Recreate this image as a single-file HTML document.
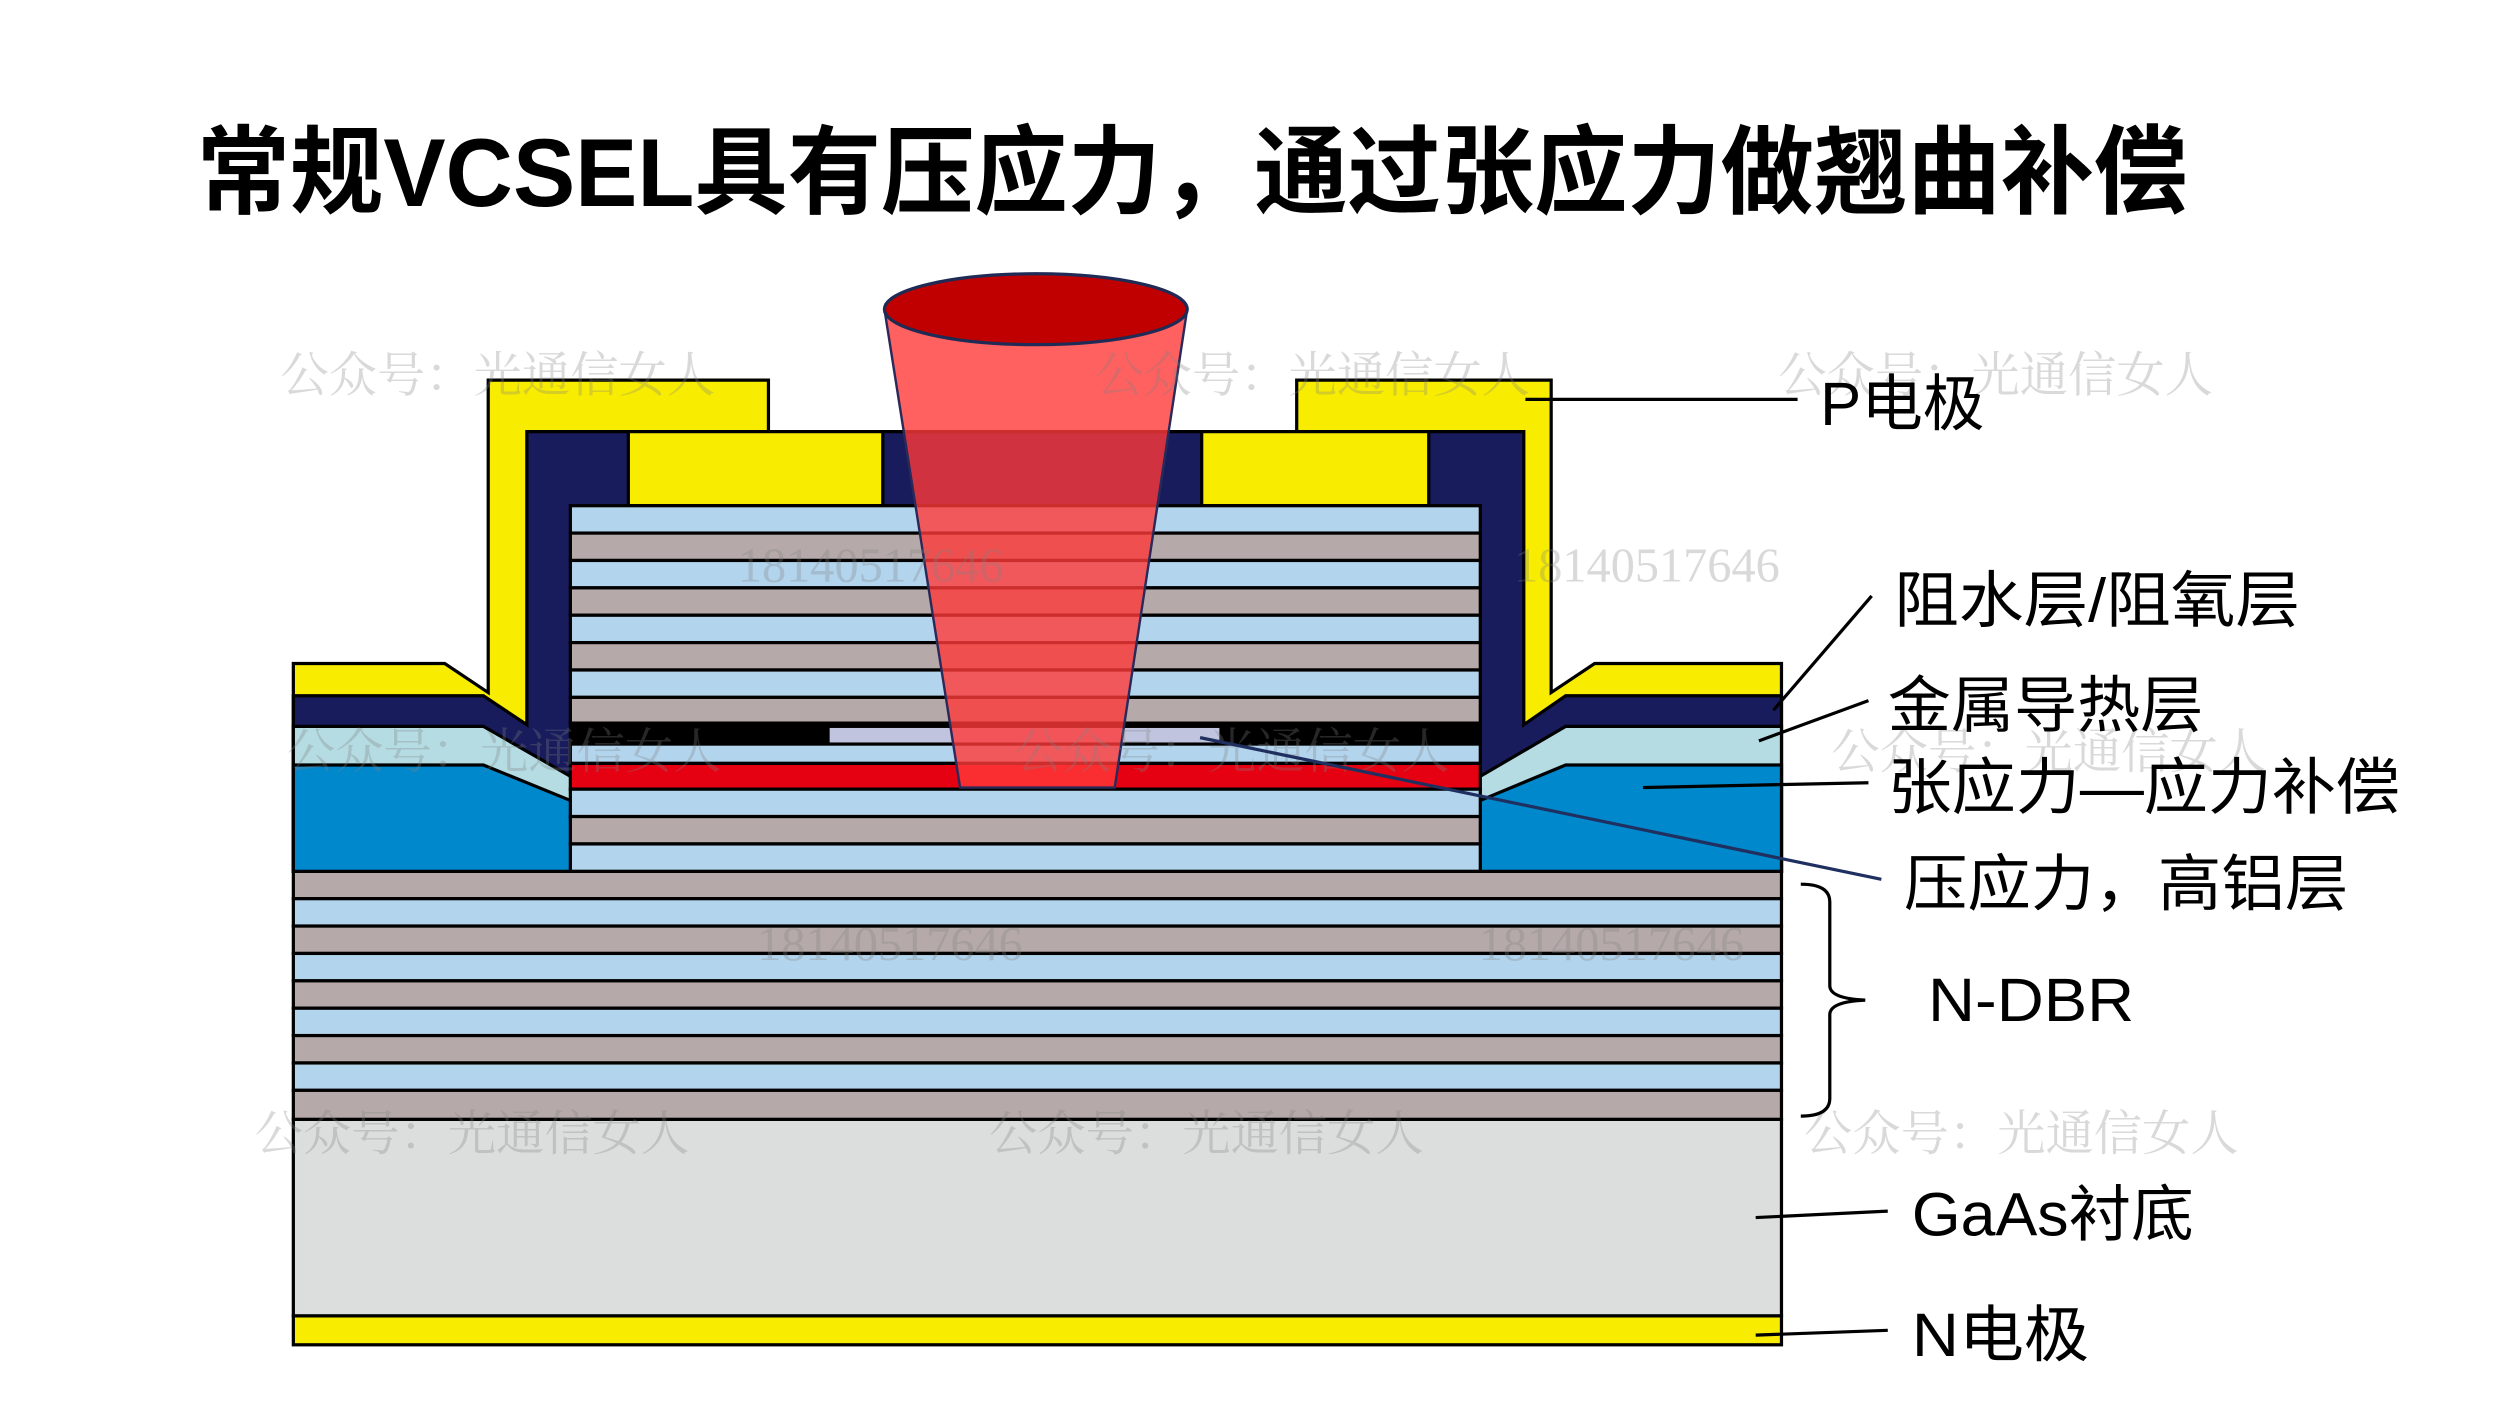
<!DOCTYPE html>
<html><head><meta charset="utf-8"><style>html,body{margin:0;padding:0;background:#fff}svg{display:block}</style></head>
<body>
<svg width="2500" height="1406" viewBox="0 0 1552 873" xmlns="http://www.w3.org/2000/svg" font-family="'Liberation Sans','Noto Sans CJK SC',sans-serif">
<rect width="1552" height="873" fill="#fff"/>
<text x="122" y="128" font-size="60" font-weight="bold" textLength="1236" lengthAdjust="spacingAndGlyphs">常规VCSEL具有压应力，通过张应力做翘曲补偿</text>

<g stroke="#000" stroke-width="2" stroke-linejoin="miter">
<rect x="182" y="817" width="924" height="18" fill="#f8ec00"/>
<rect x="182" y="695" width="924" height="122" fill="#dcdddd"/>
<rect x="182" y="541" width="924" height="17" fill="#b6a9a9"/>
<rect x="182" y="558" width="924" height="17" fill="#b2d4ec"/>
<rect x="182" y="575" width="924" height="17" fill="#b6a9a9"/>
<rect x="182" y="592" width="924" height="17" fill="#b2d4ec"/>
<rect x="182" y="609" width="924" height="17" fill="#b6a9a9"/>
<rect x="182" y="626" width="924" height="17" fill="#b2d4ec"/>
<rect x="182" y="643" width="924" height="17" fill="#b6a9a9"/>
<rect x="182" y="660" width="924" height="17" fill="#b2d4ec"/>
<rect x="182" y="677" width="924" height="18" fill="#b6a9a9"/>
<polygon fill="#f8ec00" points="182,541 182,412 276,412 303,430 303,236 477,236 477,268 805,268 805,236 963,236 963,430 990,412 1106,412 1106,541"/>
<polygon fill="#181b5c" points="182,541 182,432 300,432 327,450 327,268 946,268 946,450 972,432 1106,432 1106,541"/>
<polygon fill="#b4dce2" points="182,541 182,451 300,451 354,482 919,482 972,451 1106,451 1106,541"/>
<polygon fill="#0088cc" points="182,541 182,475 300,475 354,497 919,497 972,475 1106,475 1106,541"/>
<rect x="390" y="268" width="158" height="46" fill="#f8ec00"/>
<rect x="746" y="268" width="141" height="46" fill="#f8ec00"/>
<rect x="354" y="314" width="565" height="17" fill="#b2d4ec"/>
<rect x="354" y="331" width="565" height="17" fill="#b6a9a9"/>
<rect x="354" y="348" width="565" height="17" fill="#b2d4ec"/>
<rect x="354" y="365" width="565" height="17" fill="#b6a9a9"/>
<rect x="354" y="382" width="565" height="17" fill="#b2d4ec"/>
<rect x="354" y="399" width="565" height="17" fill="#b6a9a9"/>
<rect x="354" y="416" width="565" height="17" fill="#b2d4ec"/>
<rect x="354" y="433" width="565" height="16" fill="#b6a9a9"/>
<rect x="354" y="449" width="565" height="13" fill="#000"/>
<rect x="354" y="462" width="565" height="12" fill="#b2d4ec"/>
<rect x="354" y="474" width="565" height="16" fill="#e50012"/>
<rect x="354" y="490" width="565" height="17" fill="#b2d4ec"/>
<rect x="354" y="507" width="565" height="17" fill="#b6a9a9"/>
<rect x="354" y="524" width="565" height="17" fill="#b2d4ec"/>
</g>
<rect x="515" y="452" width="242" height="9" fill="#c0c4de"/>

<polygon points="549,192 737,192 692,489 596,489" fill="#ff3838" fill-opacity="0.8" stroke="#2a2a5a" stroke-width="1.5"/>
<ellipse cx="643" cy="192" rx="94" ry="22" fill="#c00000" stroke="#1f2a55" stroke-width="2"/>

<g fill="#808080" fill-opacity="0.3" font-family="'Liberation Serif','Noto Serif CJK SC',serif" font-size="30">
<text x="174" y="243">公众号：光通信女人</text>
<text x="680" y="243">公众号：光通信女人</text>
<text x="1104" y="243">公众号：光通信女人</text>
<text x="178" y="477">公众号：光通信女人</text>
<text x="630" y="477">公众号：光通信女人</text>
<text x="1137" y="477">公众号：光通信女人</text>
<text x="158" y="714">公众号：光通信女人</text>
<text x="614" y="714">公众号：光通信女人</text>
<text x="1120" y="714">公众号：光通信女人</text>
<text x="458" y="361">18140517646</text>
<text x="940" y="361">18140517646</text>
<text x="470" y="596">18140517646</text>
<text x="918" y="596">18140517646</text>
</g>

<g stroke="#000" stroke-width="2" fill="none">
<line x1="947" y1="248" x2="1116" y2="248"/>
<line x1="1162" y1="370" x2="1101" y2="441"/>
<line x1="1160" y1="435" x2="1092" y2="460"/>
<line x1="1160" y1="486" x2="1020" y2="489"/>
<line x1="1172" y1="752" x2="1090" y2="756"/>
<line x1="1172" y1="826" x2="1090" y2="829"/>
<path d="M1118,549 Q1136,549 1136,560 L1136,612 Q1136,620 1158,621 Q1136,622 1136,630 L1136,682 Q1136,693 1118,693"/>
</g>
<line x1="1168" y1="546" x2="745" y2="458" stroke="#1f3060" stroke-width="2"/>

<g font-size="38" fill="#000">
<text x="1130" y="264" textLength="102" lengthAdjust="spacingAndGlyphs">P电极</text>
<text x="1176" y="386" textLength="252" lengthAdjust="spacingAndGlyphs">阻水层/阻氧层</text>
<text x="1172" y="451" textLength="196" lengthAdjust="spacingAndGlyphs">金属导热层</text>
<text x="1172" y="502" textLength="318" lengthAdjust="spacingAndGlyphs">张应力—应力补偿</text>
<text x="1182" y="562" textLength="276" lengthAdjust="spacingAndGlyphs">压应力，高铝层</text>
<text x="1197" y="634" textLength="128" lengthAdjust="spacingAndGlyphs">N-DBR</text>
<text x="1187" y="767" textLength="175" lengthAdjust="spacingAndGlyphs">GaAs衬底</text>
<text x="1187" y="842" textLength="110" lengthAdjust="spacingAndGlyphs">N电极</text>
</g>
</svg>
</body></html>
